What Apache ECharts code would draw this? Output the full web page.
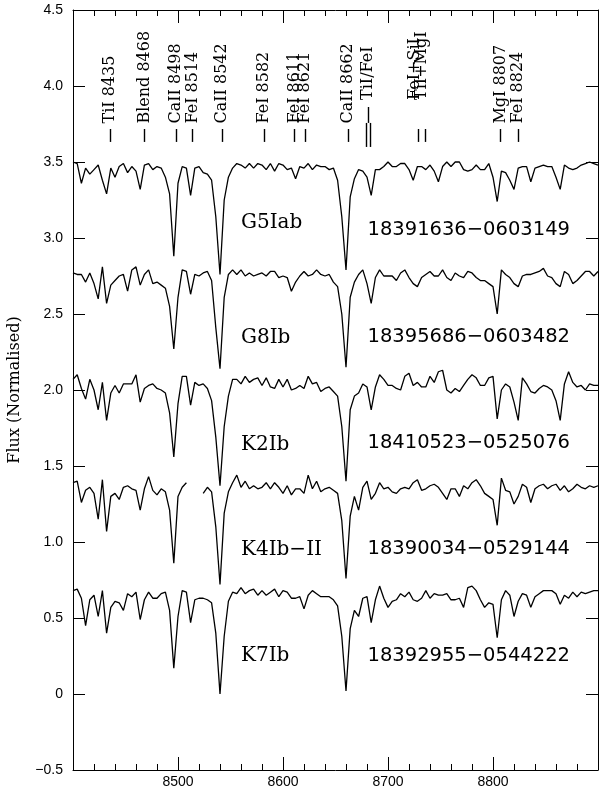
<!DOCTYPE html>
<html><head><meta charset="utf-8">
<script src="https://cdn.jsdelivr.net/npm/echarts@6/dist/echarts.min.js"></script>
<style>html,body{margin:0;padding:0;background:#fff}#c{width:600px;height:792px}</style>
</head><body><div id="c"></div><script>
// wavelength sampling grid (Angstrom): 8400 .. 8900 in steps of 4
const waveStart = 8400, waveStep = 4, waveCount = 126;

const fluxG5Iab = [
3.50,3.49,3.36,3.46,3.42,3.45,3.48,3.38,3.29,3.46,
3.40,3.47,3.49,3.43,3.47,3.44,3.32,3.48,3.49,3.45,
3.47,3.46,3.40,3.29,2.88,3.36,3.47,3.46,3.28,3.46,
3.47,3.43,3.42,3.38,3.14,2.76,3.25,3.40,3.46,3.49,
3.48,3.46,3.49,3.46,3.49,3.48,3.45,3.49,3.44,3.49,
3.48,3.45,3.46,3.39,3.47,3.46,3.49,3.45,3.48,3.47,
3.47,3.45,3.46,3.38,3.14,2.79,3.27,3.39,3.45,3.44,
3.40,3.28,3.45,3.45,3.47,3.50,3.47,3.47,3.49,3.49,
3.45,3.38,3.47,3.47,3.45,3.48,3.44,3.37,3.47,3.50,
3.47,3.50,3.50,3.45,3.44,3.45,3.48,3.45,3.45,3.49,
3.40,3.24,3.44,3.43,3.38,3.32,3.46,3.47,3.47,3.37,
3.46,3.47,3.48,3.47,3.47,3.40,3.32,3.48,3.46,3.45,
3.46,3.48,3.49,3.50,3.49,3.48];

const fluxG8Ib = [
2.77,2.76,2.76,2.71,2.77,2.70,2.60,2.81,2.57,2.69,
2.72,2.75,2.76,2.65,2.79,2.81,2.69,2.76,2.79,2.70,
2.71,2.69,2.67,2.55,2.27,2.61,2.79,2.78,2.63,2.76,
2.75,2.77,2.78,2.72,2.41,2.14,2.61,2.76,2.79,2.76,
2.79,2.75,2.77,2.75,2.76,2.77,2.75,2.78,2.78,2.74,
2.75,2.74,2.65,2.71,2.75,2.78,2.75,2.76,2.79,2.76,
2.75,2.76,2.71,2.68,2.50,2.15,2.61,2.71,2.76,2.79,
2.70,2.57,2.74,2.79,2.75,2.75,2.75,2.72,2.77,2.79,
2.74,2.70,2.68,2.74,2.76,2.78,2.75,2.75,2.79,2.74,
2.72,2.77,2.75,2.74,2.78,2.77,2.74,2.72,2.72,2.70,
2.68,2.50,2.79,2.76,2.74,2.70,2.68,2.75,2.76,2.76,
2.77,2.78,2.80,2.75,2.74,2.70,2.68,2.78,2.76,2.70,
2.72,2.75,2.78,2.78,2.75,2.78];

const fluxK2Ib = [
2.07,2.10,2.01,1.94,2.07,2.00,1.87,2.05,1.80,1.98,
2.03,1.98,2.04,2.04,2.04,2.10,1.92,2.01,2.03,2.04,
2.01,2.00,1.98,1.85,1.56,1.91,2.09,2.09,1.90,2.05,
2.03,2.04,2.01,1.93,1.69,1.37,1.76,1.96,2.07,2.07,
2.04,2.09,2.05,2.07,2.08,2.03,2.08,2.02,2.01,2.07,
2.02,2.07,2.00,2.01,2.03,2.01,2.09,2.04,2.05,1.99,
2.01,2.02,1.99,1.96,1.76,1.40,1.87,1.96,1.98,2.04,
2.02,1.87,2.02,2.10,2.07,2.03,2.03,2.01,2.00,2.09,
2.11,2.03,2.05,2.02,2.02,2.09,2.05,2.12,2.13,2.00,
1.98,2.01,1.99,2.03,2.07,2.10,2.08,2.03,2.03,2.08,
2.09,1.81,2.00,2.04,2.02,1.92,1.80,2.08,2.04,1.99,
1.98,2.01,2.03,2.02,2.00,1.93,1.80,2.04,2.12,2.05,
2.02,2.03,2.00,2.04,2.03,2.03];

const fluxK4IbII = [
1.39,1.40,1.26,1.34,1.36,1.32,1.15,1.41,1.07,1.30,
1.32,1.28,1.36,1.37,1.35,1.34,1.21,1.35,1.43,1.34,
1.31,1.35,1.33,1.21,0.86,1.30,1.36,1.39,null,null,
null,1.32,1.36,1.33,1.10,0.72,1.19,1.33,1.39,1.44,
1.36,1.40,1.35,1.37,1.35,1.36,1.39,1.35,1.39,1.36,
1.32,1.37,1.31,1.35,1.35,1.32,1.44,1.35,1.40,1.33,
1.35,1.36,1.34,1.32,1.14,0.76,1.17,1.30,1.21,1.36,
1.40,1.28,1.32,1.39,1.35,1.36,1.33,1.32,1.35,1.36,
1.35,1.39,1.41,1.34,1.35,1.37,1.38,1.36,1.32,1.28,
1.35,1.35,1.30,1.37,1.35,1.39,1.41,1.37,1.32,1.30,
1.28,1.11,1.42,1.34,1.33,1.25,1.30,1.38,1.36,1.26,
1.35,1.37,1.38,1.35,1.37,1.38,1.34,1.37,1.33,1.35,
1.38,1.36,1.35,1.37,1.36,1.37];

const fluxK7Ib = [
0.68,0.69,0.63,0.45,0.62,0.65,0.51,0.68,0.40,0.57,
0.61,0.60,0.55,0.66,0.64,0.67,0.49,0.62,0.67,0.63,
0.63,0.66,0.67,0.55,0.17,0.51,0.68,0.67,0.47,0.62,
0.63,0.63,0.62,0.60,0.40,0.00,0.38,0.61,0.67,0.66,
0.70,0.66,0.68,0.69,0.65,0.68,0.65,0.67,0.69,0.64,
0.68,0.67,0.63,0.63,0.64,0.56,0.65,0.68,0.66,0.64,
0.64,0.64,0.62,0.58,0.38,0.02,0.43,0.55,0.51,0.63,
0.64,0.47,0.62,0.71,0.63,0.57,0.61,0.62,0.66,0.64,
0.67,0.62,0.61,0.63,0.68,0.63,0.66,0.65,0.65,0.66,
0.62,0.62,0.63,0.57,0.70,0.71,0.68,0.62,0.57,0.60,
0.59,0.37,0.62,0.68,0.65,0.51,0.61,0.66,0.65,0.57,
0.64,0.66,0.68,0.68,0.68,0.66,0.59,0.65,0.63,0.67,
0.64,0.67,0.66,0.67,0.68,0.68];

const spectra = [fluxG5Iab, fluxG8Ib, fluxK2Ib, fluxK4IbII, fluxK7Ib];
const spTypes = ['G5Iab', 'G8Ib', 'K2Ib', 'K4Ib\u2212II', 'K7Ib'];
const starIds = ['18391636\u22120603149', '18395686\u22120603482', '18410523\u22120525076', '18390034\u22120529144', '18392955\u22120544222'];
const spTypeAt = [[8560, 3.10], [8560, 2.345], [8560, 1.64], [8560, 0.95], [8560, 0.252]];
const starIdAt = [[8680.5, 3.056], [8680.5, 2.352], [8680.5, 1.655], [8680.5, 0.954], [8680.5, 0.253]];

// spectral line identifications
const lineNames = ['TiI 8435', 'Blend 8468', 'CaII 8498', 'FeI 8514', 'CaII 8542', 'FeI 8582', 'FeI 8611', 'FeI 8621', 'CaII 8662', 'TiI/FeI', 'FeI+SiI', 'TiI+MgI', 'MgI 8807', 'FeI 8824'];
const lineNameWave = [8435, 8468, 8498, 8514, 8542, 8582, 8611, 8621, 8662, 8681, 8726, 8732, 8807, 8824];
const lineNameBase = [3.753, 3.753, 3.753, 3.753, 3.753, 3.753, 3.753, 3.753, 3.753, 3.908, 3.908, 3.908, 3.753, 3.753];
const tickWave = [8435, 8468, 8498, 8514, 8542, 8582, 8611, 8621, 8662, 8728.5, 8735, 8807, 8824];
const tickRange = [3.632, 3.717];
const forkStem = [8681, 3.757, 3.862];
const forkProngs = [8679, 8683];
const forkProngRange = [3.599, 3.757];

// axis scales
const xTicks = { min: 8400, max: 8900, step: 100, minorStep: 20 };
const yTicks = { min: -0.5, max: 4.5, step: 0.5 };

const waves = [];
for (let i = 0; i < waveCount; i++) waves.push(waveStart + i * waveStep);

const gridBox = { left: 73, right: 2, top: 10, bottom: 22 };
const plotW = 600 - gridBox.left - gridBox.right, plotH = 792 - gridBox.top - gridBox.bottom;
// tick lengths in pixels converted to data units of the perpendicular axis
const yPerPx = (yTicks.max - yTicks.min) / plotH, xPerPx = (xTicks.max - xTicks.min) / plotW;
const lenMajorX = 13 * yPerPx, lenMinorX = 6 * yPerPx, lenY = 12 * xPerPx;

const tickSegs = [];
const tickStyle = { color: '#000', width: 1, type: 'solid' };
for (let v = xTicks.min + xTicks.minorStep; v < xTicks.max - 1e-6; v += xTicks.minorStep) {
  const L = (v - xTicks.min) % xTicks.step === 0 ? lenMajorX : lenMinorX;
  tickSegs.push([{ coord: [v, yTicks.min], lineStyle: tickStyle }, { coord: [v, yTicks.min + L] }]);
  tickSegs.push([{ coord: [v, yTicks.max], lineStyle: tickStyle }, { coord: [v, yTicks.max - L] }]);
}
for (let k = 1; k * yTicks.step < yTicks.max - yTicks.min - 1e-9; k++) {
  const v = +(yTicks.min + k * yTicks.step).toFixed(2);
  tickSegs.push([{ coord: [xTicks.min, v], lineStyle: tickStyle }, { coord: [xTicks.min + lenY, v] }]);
  tickSegs.push([{ coord: [xTicks.max, v], lineStyle: tickStyle }, { coord: [xTicks.max - lenY, v] }]);
}

const chart = echarts.init(document.getElementById('c'), null, { renderer: 'canvas' });

const black = '#000';
function xAxisDef(pos, showLabel) {
  return {
    type: 'value', min: xTicks.min, max: xTicks.max, interval: xTicks.step, position: pos,
    axisLine: { show: true, onZero: false, lineStyle: { color: black, width: 1 } },
    axisTick: { show: false }, minorTick: { show: false },
    splitLine: { show: false }, minorSplitLine: { show: false },
    axisLabel: { show: showLabel, showMinLabel: false, showMaxLabel: false, color: black,
      fontFamily: 'Liberation Sans', fontSize: 14, margin: 5, formatter: v => String(v) }
  };
}
function yAxisDef(pos, showLabel) {
  return {
    type: 'value', min: yTicks.min, max: yTicks.max, interval: yTicks.step, position: pos,
    axisLine: { show: true, onZero: false, lineStyle: { color: black, width: 1 } },
    axisTick: { show: false }, splitLine: { show: false },
    axisLabel: { show: showLabel, color: black, fontFamily: 'Liberation Sans', fontSize: 14, margin: 10,
      formatter: v => v === 0 ? '0' : (v < 0 ? '\u2212' + Math.abs(v).toFixed(1) : v.toFixed(1)) }
  };
}

const markData = tickWave.map(w => [{ coord: [w, tickRange[0]] }, { coord: [w, tickRange[1]] }]);
markData.push([{ coord: [forkStem[0], forkStem[1]] }, { coord: [forkStem[0], forkStem[2]] }]);
forkProngs.forEach(w => markData.push([{ coord: [w, forkProngRange[0]] }, { coord: [w, forkProngRange[1]] }]));

const series = spectra.map((f, k) => ({
  type: 'line', name: spTypes[k], xAxisIndex: 0, yAxisIndex: 0,
  data: waves.map((w, i) => [w, f[i] === null ? '-' : f[i]]),
  showSymbol: false, symbol: 'none', connectNulls: false, silent: true,
  lineStyle: { color: black, width: 1.3 }, z: 3
}));

const textLabel = { show: true, position: 'right', distance: 0, formatter: '{b}', color: black,
  opacity: 1, align: 'left', verticalAlign: 'middle' };

series.push({
  type: 'scatter', symbolSize: 0, silent: true, itemStyle: { opacity: 1 },
  data: spTypeAt.map((p, k) => ({ name: spTypes[k], value: p })),
  label: Object.assign({}, textLabel, { fontFamily: 'DejaVu Serif', fontSize: 20 }),
  markLine: { silent: true, symbol: ['none', 'none'], label: { show: false },
    lineStyle: tickStyle, data: tickSegs }
});
series.push({
  type: 'scatter', symbolSize: 0, silent: true, itemStyle: { opacity: 1 },
  data: starIdAt.map((p, k) => ({ name: starIds[k], value: p })),
  label: Object.assign({}, textLabel, { fontFamily: 'DejaVu Sans', fontSize: 19.5 })
});
series.push({
  type: 'scatter', symbolSize: 0, silent: true, itemStyle: { opacity: 1 },
  data: lineNames.map((n, k) => ({ name: n, value: [lineNameWave[k], lineNameBase[k]] })),
  label: Object.assign({}, textLabel, { rotate: 90, fontFamily: 'DejaVu Serif', fontSize: 16 }),
  markLine: { silent: true, symbol: ['none', 'none'], label: { show: false },
    lineStyle: { color: black, width: 1.4, type: 'solid', opacity: 1 }, data: markData }
});

const yLeft = yAxisDef('left', true);
Object.assign(yLeft, { name: 'Flux (Normalised)', nameLocation: 'middle', nameGap: 50, nameRotate: 90,
  nameTextStyle: { color: black, fontFamily: 'DejaVu Serif', fontSize: 16 } });

chart.setOption({
  animation: false,
  backgroundColor: '#fff',
  grid: Object.assign({ containLabel: false, outerBoundsMode: 'none' }, gridBox),
  xAxis: [xAxisDef('bottom', true), xAxisDef('top', false)],
  yAxis: [yLeft, yAxisDef('right', false)],
  series: series
});
</script></body></html>
